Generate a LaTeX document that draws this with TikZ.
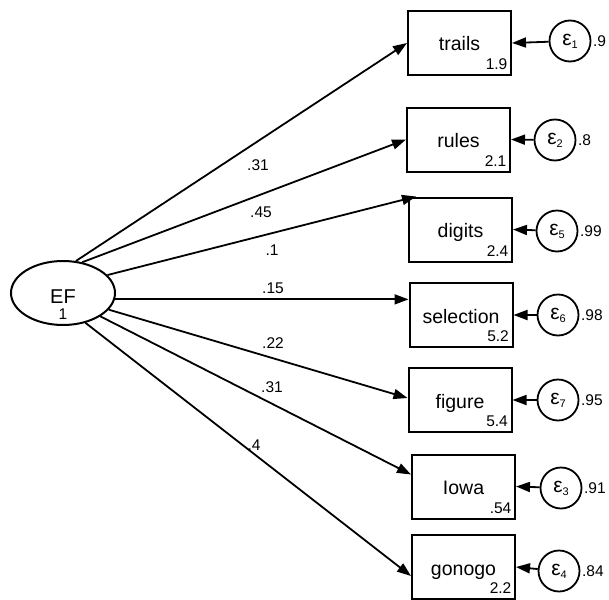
\documentclass[tikz,border=0pt]{standalone}
\usepackage{fontspec}
\setmainfont{Liberation Sans}
\usetikzlibrary{shapes.geometric,arrows.meta,calc}
\newcommand{\eps}[1]{ε\raisebox{-3pt}{\fontsize{11}{11}\selectfont #1}}
\begin{document}
\begin{tikzpicture}[x=1pt,y=-1pt,
  obs/.style={draw, line width=2pt, minimum width=103pt, minimum height=64pt, inner sep=0pt,
    text height=18pt, text depth=2pt, font=\fontsize{19.5}{22}\selectfont},
  lat/.style={draw, ellipse, line width=2pt, minimum width=104pt, minimum height=64pt, inner sep=0pt},
  err/.style={draw, circle, line width=1.8pt, minimum size=41pt, inner sep=0pt, font=\fontsize{21}{22}\selectfont},
  small/.style={font=\fontsize{15.5}{17}\selectfont, inner sep=0pt},
  arr/.style={line width=1.8pt, -{Triangle[length=14pt,width=10pt]}}]
\useasboundingbox (0,0) rectangle (609,599);
% latent
\node[lat] (EF) at (63,293) {};
\node[anchor=base, font=\fontsize{20}{22}\selectfont, inner sep=0pt] (EFlab) at (63,303) {EF};
\node[anchor=base, small] (EFvar) at (63,319) {1};
% observed boxes
\node[obs] (trails) at (459.5,43) {trails};
\node[obs] (rules) at (458.5,139.5) {rules};
\node[obs] (digits) at (460.5,229.5) {digits};
\node[obs] (selection) at (461,315) {selection};
\node[obs] (figure) at (460,400) {figure};
\node[obs] (Iowa) at (463.5,486.5) {Iowa};
\node[obs] (gonogo) at (463.5,567) {gonogo};
% intercepts
\foreach \b/\v in {trails/1.9, rules/2.1, digits/2.4, selection/5.2, figure/5.4, Iowa/.54, gonogo/2.2}
  \node[small, anchor=base east] (\b int) at ([xshift=-4.5pt,yshift=6.5pt]\b.south east) {\v};
% error terms
\node[err] (e1) at (570,41) {\eps{1}};
\node[err] (e2) at (555,140) {\eps{2}};
\node[err] (e5) at (557,231) {\eps{5}};
\node[err] (e6) at (558,315) {\eps{6}};
\node[err] (e7) at (558,400) {\eps{7}};
\node[err] (e3) at (561,488) {\eps{3}};
\node[err] (e4) at (559,571) {\eps{4}};
\foreach \e/\v in {e1/.9, e2/.8, e5/.99, e6/.98, e7/.95, e3/.91, e4/.84}
  \node[small, anchor=west] (\e var) at ([xshift=1.5pt]\e.east) {\v};
% error arrows
\draw[arr] (e1) -- (trails.east);
\draw[arr] (e2) -- (rules.east);
\draw[arr] (e5) -- (digits.east);
\draw[arr] (e6) -- (selection.east);
\draw[arr] (e7) -- (figure.east);
\draw[arr] (e3) -- (Iowa.east);
\draw[arr] (e4) -- (gonogo.east);
% loadings
\draw[arr] (EF.68) -- (trails.west);
\draw[arr] (EF.58) -- (rules.west);
\draw[arr] (EF.22) -- ([xshift=8pt]digits.north west);
\draw[arr] (EF.-7) -- (EF.-7 -| selection.west);
\draw[arr] (EF.-20) -- ([yshift=2pt]figure.west);
\draw[arr] (EF.-32) -- ([yshift=12pt]Iowa.west);
\draw[arr] (EF.-53) -- ([yshift=-9pt]gonogo.west);
% loading labels
\node[small] (l1) at (258,165) {.31};
\node[small] (l2) at (261,212) {.45};
\node[small] (l3) at (272,250) {.1};
\node[small] (l4) at (273,288) {.15};
\node[small] (l5) at (273,343) {.22};
\node[small] (l6) at (272,387) {.31};
\node[small] (l7) at (254,445) {.4};
\end{tikzpicture}
\end{document}
